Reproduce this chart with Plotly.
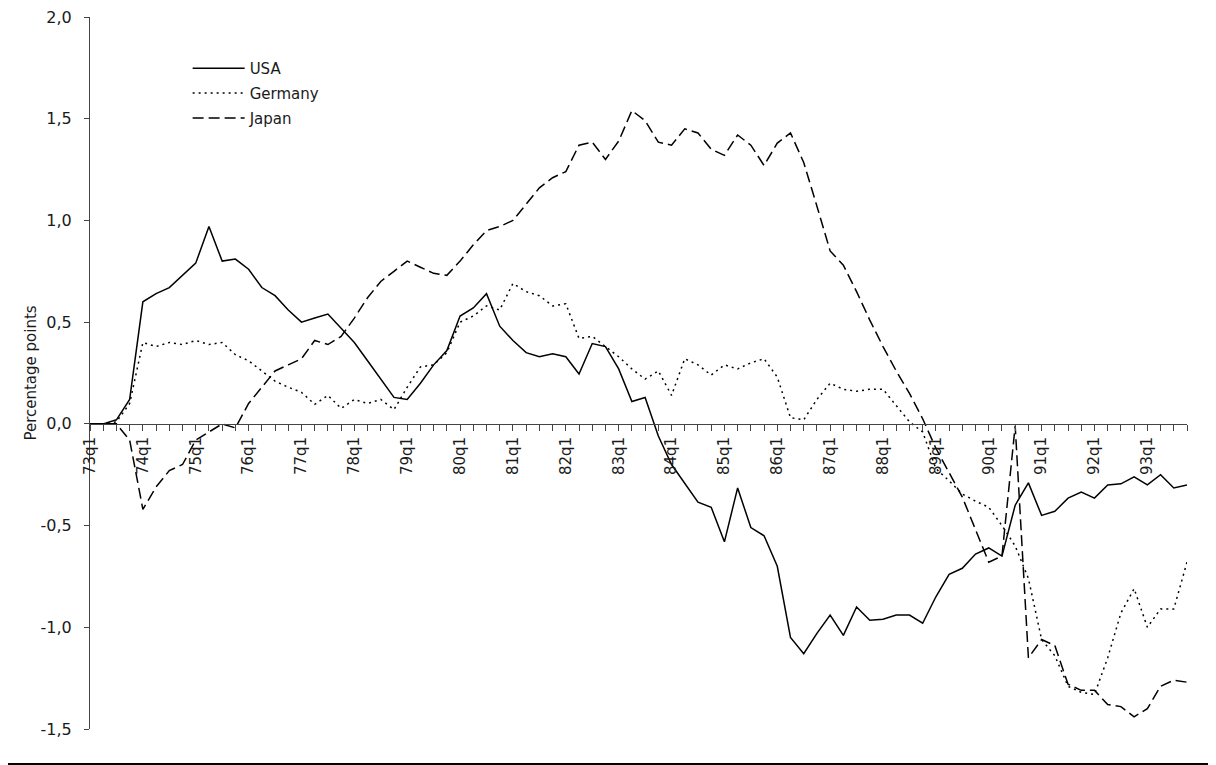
import plotly.graph_objects as go

# Quarterly categories 73q1 .. 93q4
years = list(range(73, 94))
quarters = [f"{y}q{q}" for y in years for q in range(1, 5)]
tick_labels = [lab if lab.endswith("q1") else "" for lab in quarters]

usa = [0, 0, 0.02, 0.12, 0.60, 0.64, 0.67, 0.73, 0.79, 0.97,
       0.80, 0.81, 0.76, 0.67, 0.63, 0.56, 0.50, 0.52, 0.54, 0.47,
       0.40, 0.31, 0.22, 0.13, 0.12, 0.20, 0.29, 0.36, 0.53, 0.57,
       0.64, 0.48, 0.41, 0.35, 0.33, 0.345, 0.33, 0.245, 0.395, 0.38,
       0.27, 0.11, 0.13, -0.06, -0.20, -0.29, -0.385, -0.41, -0.58, -0.315,
       -0.51, -0.55, -0.70, -1.05, -1.13, -1.03, -0.94, -1.04, -0.90, -0.965,
       -0.96, -0.94, -0.94, -0.98, -0.85, -0.74, -0.71, -0.64, -0.61, -0.65,
       -0.40, -0.29, -0.45, -0.43, -0.365, -0.335, -0.365, -0.30, -0.295, -0.26,
       -0.30, -0.25, -0.315, -0.30]

germany = [0, 0, 0.01, 0.10, 0.40, 0.38, 0.40, 0.39, 0.41, 0.39,
           0.40, 0.34, 0.31, 0.26, 0.21, 0.18, 0.155, 0.096, 0.14, 0.076,
           0.12, 0.10, 0.12, 0.07, 0.18, 0.28, 0.29, 0.35, 0.50, 0.53,
           0.58, 0.56, 0.69, 0.65, 0.63, 0.58, 0.59, 0.42, 0.43, 0.38,
           0.33, 0.27, 0.22, 0.26, 0.14, 0.32, 0.29, 0.24, 0.29, 0.27,
           0.30, 0.32, 0.23, 0.03, 0.02, 0.12, 0.20, 0.17, 0.16, 0.17,
           0.17, 0.09, 0.01, -0.04, -0.22, -0.28, -0.345, -0.38, -0.41, -0.50,
           -0.60, -0.76, -1.06, -1.14, -1.29, -1.32, -1.33, -1.15, -0.93, -0.81,
           -1.00, -0.91, -0.91, -0.68]

japan = [0, 0, 0.0, -0.08, -0.42, -0.31, -0.23, -0.20, -0.08, -0.04,
         0.0, -0.02, 0.10, 0.18, 0.26, 0.29, 0.32, 0.41, 0.39, 0.43,
         0.52, 0.62, 0.70, 0.75, 0.80, 0.77, 0.74, 0.73, 0.80, 0.88,
         0.95, 0.97, 1.00, 1.08, 1.16, 1.21, 1.24, 1.37, 1.385, 1.30,
         1.39, 1.54, 1.49, 1.385, 1.37, 1.45, 1.43, 1.35, 1.32, 1.42,
         1.37, 1.27, 1.38, 1.43, 1.285, 1.07, 0.85, 0.78, 0.65, 0.51,
         0.38, 0.26, 0.15, 0.025, -0.12, -0.24, -0.36, -0.52, -0.68, -0.65,
         -0.01, -1.15, -1.06, -1.09, -1.28, -1.31, -1.31, -1.38, -1.39, -1.44,
         -1.40, -1.29, -1.26, -1.27]

y_ticks = [-1.5, -1.0, -0.5, 0.0, 0.5, 1.0, 1.5, 2.0]
y_tick_labels = ["-1,5", "-1,0", "-0,5", "0,0", "0,5", "1,0", "1,5", "2,0"]
y_min, y_max = -1.5, 2.0

x_idx = list(range(len(quarters)))

FONT = "DejaVu Sans"
AX = "#444444"
TXT = "#1a1a1a"

# page body has an 8px margin; figure sized so the plot area lands at
# x 90..1187, y 17..721 of the window
W, H = 1208, 757
ML, MR, MT, MB = 82, 29, 9, 36
PW, PH = W - ML - MR, H - MT - MB

fig = go.Figure()
fig.add_trace(go.Scatter(x=x_idx, y=usa, name="USA", mode="lines",
                         line=dict(color="black", width=1.5, dash="solid"),
                         legendgroup="a"))
fig.add_trace(go.Scatter(x=x_idx, y=germany, name="Germany", mode="lines",
                         line=dict(color="black", width=1.5, dash="2px,4px"),
                         legendgroup="b"))
fig.add_trace(go.Scatter(x=x_idx, y=japan, name="Japan", mode="lines",
                         line=dict(color="black", width=1.5, dash="11px,5px"),
                         legendgroup="c"))

zero_pos = (0 - y_min) / (y_max - y_min)

fig.update_layout(
    width=W, height=H,
    margin=dict(l=ML, r=MR, t=MT, b=MB, autoexpand=False),
    paper_bgcolor="white", plot_bgcolor="white",
    font=dict(family=FONT, size=15, color=TXT),
    showlegend=True,
    legend=dict(x=0.089, y=0.951, xanchor="left", yanchor="top",
                bgcolor="rgba(0,0,0,0)", borderwidth=0,
                font=dict(family=FONT, size=15, color=TXT),
                tracegroupgap=2.4, itemwidth=52),
    xaxis=dict(range=[0, len(quarters) - 1], anchor="free", position=zero_pos,
               tickmode="array", tickvals=x_idx, ticktext=tick_labels,
               tickangle=-90, ticks="outside", ticklen=6, tickwidth=1,
               tickcolor=AX, showline=True, linecolor=AX, linewidth=1,
               showgrid=False, zeroline=False,
               tickfont=dict(family=FONT, size=15, color=TXT)),
    xaxis2=dict(range=[0, len(quarters) - 1], overlaying="x", anchor="free",
                position=zero_pos, tickmode="array", tickvals=x_idx,
                ticks="inside", ticklen=6, tickwidth=1, tickcolor=AX,
                showticklabels=False, showline=False, showgrid=False,
                zeroline=False),
    yaxis=dict(range=[y_min, y_max], tickmode="array", tickvals=y_ticks,
               ticktext=y_tick_labels, ticks="outside", ticklen=5, tickwidth=1,
               tickcolor=AX, showline=True, linecolor=AX, linewidth=1,
               showgrid=False, zeroline=False, ticklabelstandoff=9,
               ticklabeloverflow="allow",
               tickfont=dict(family=FONT, size=16, color=TXT),
               title=dict(text="Percentage points",
                          font=dict(family=FONT, size=15, color=TXT),
                          standoff=0)),
)

# bottom frame line
fig.add_shape(type="line", xref="paper", yref="paper",
              x0=-ML / PW, x1=(W - ML) / PW,
              y0=-(MB - 1) / PH, y1=-(MB - 1) / PH,
              line=dict(color="black", width=2))

fig.write_html("out.html")
